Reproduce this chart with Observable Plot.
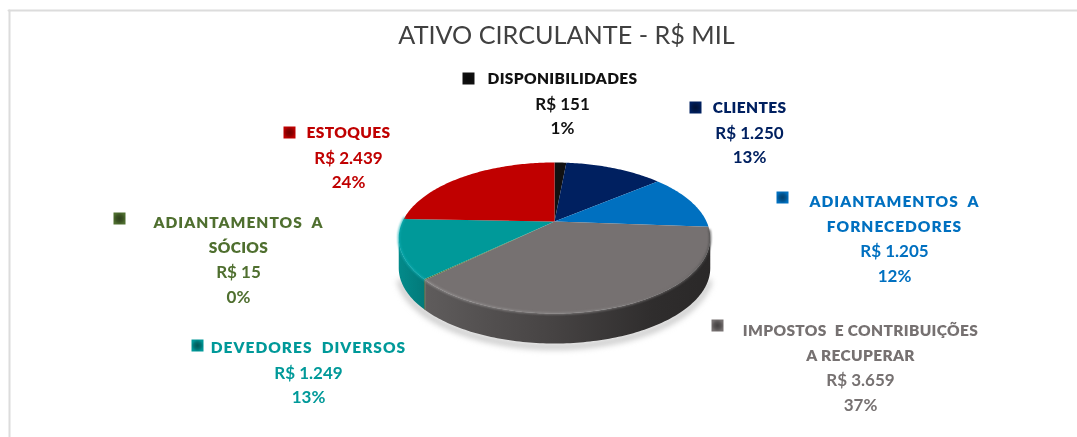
<!DOCTYPE html>
<html><head><meta charset="utf-8">
<script src="https://cdn.jsdelivr.net/npm/d3@7"></script>
<script src="https://cdn.jsdelivr.net/npm/@observablehq/plot@0.6"></script>
<style>
html,body{margin:0;padding:0;background:#fff}
svg{display:block;font-family:Lato,sans-serif}
.soft{filter:blur(.45px)}
.rim{filter:blur(.8px)}
.shadow{filter:blur(3px)}
.txt{filter:blur(.3px)}
.wide{filter:blur(.3px)}
.wide text{letter-spacing:1px}
.tight{filter:blur(.3px)}
.tight text{letter-spacing:.35px}
</style></head><body><div id="chart"></div>
<script>
// ---- data ----
const chartTitle = "ATIVO CIRCULANTE - R$ MIL";
const categories = ["DISPONIBILIDADES","CLIENTES","ADIANTAMENTOS A FORNECEDORES","IMPOSTOS E CONTRIBUIÇÕES A RECUPERAR","ADIANTAMENTOS A SÓCIOS","DEVEDORES DIVERSOS","ESTOQUES"];
const values = [151,1250,1205,3659,15,1249,2439];
const percents = ["1%","13%","12%","37%","0%","13%","24%"];
const nameLines = [["DISPONIBILIDADES"],["CLIENTES"],["ADIANTAMENTOS  A","FORNECEDORES"],["IMPOSTOS  E CONTRIBUIÇÕES","A RECUPERAR"],["ADIANTAMENTOS  A","SÓCIOS"],["DEVEDORES  DIVERSOS"],["ESTOQUES"]];
const colors = ["#111111","#002060","#0070c0","#767171","#4f6f2f","#009999","#c00000"];
// ---- layout (pixel-unit scales) ----
const labelCx = [562,749,894,860,238,308,348];
const labelTop = [79,108,202,331,223,348,133];
const rowGap = 24.6;
const markerX = [468,695,782,717,119,197,289];
const markerY = [78,107,197,325,218,345,132];
const pieCx = 554, pieCy = 221, pieA = 152, pieB = 71.9, persp = 0.2185, depth = 30;

const fmt = v => "R$ " + d3.format(",")(v).replace(/,/g,".");
const total = d3.sum(values);
const toXY = (deg, dy=0) => {
  const t = deg*Math.PI/180, c = Math.cos(t), s = Math.sin(t), w = 1 + persp*c;
  return {x: pieCx + pieA*s/w, y: pieCy - pieB*c/w + dy};
};
const arcPts = (a0,a1,dy=0) => {
  const n = Math.max(2,Math.ceil(Math.abs(a1-a0)));
  return d3.range(n+1).map(i => toXY(a0+(a1-a0)*i/n,dy));
};
let acc = 0;
const spans = values.map((v,i)=>{const a0=acc/total*360; acc+=v; return {name:categories[i],a0,a1:acc/total*360};});
const tilt = Math.acos(-persp)*180/Math.PI;          // tangent of the rim on the right
const visL = 360 - tilt, visR = tilt;
const faces = spans.flatMap(s => [{x:pieCx,y:pieCy},...arcPts(s.a0,s.a1)].map(p=>({...p,name:s.name})));
const wall = s => { const a0=Math.max(s.a0,visR), a1=Math.min(s.a1,visL);
  return a1<=a0 ? [] : [...arcPts(a0,a1),...arcPts(a1,a0,depth)]; };
const greyWall = wall(spans[3]), tealWall = wall(spans[5]), sliverWall = wall(spans[4]);
const greyRim = arcPts(Math.max(spans[3].a0,visR)-6,spans[3].a1);
const tealRim = arcPts(spans[5].a0,spans[5].a1+1);
const shadowArc = arcPts(visR+8,visL-8,depth+3);

const rows = categories.flatMap((name,i)=>{
  const lines=[...nameLines[i],fmt(values[i]),percents[i]];
  return lines.map((t,j)=>({name,t,x:labelCx[i],y:labelTop[i]+j*rowGap,head:j<nameLines[i].length}));
});
const isWide = d => /ADIANTAMENTOS|DEVEDORES|FORNECEDORES/.test(d.t);
const markers = categories.map((name,i)=>({name,x:markerX[i],y:markerY[i],i}));
const frameTop=[{x:8,y:10},{x:1077,y:10}], frameLeft=[{x:9,y:10},{x:9,y:437}];

function defsMark(){
  const g=d3.create("svg:g"), defs=g.append("defs");
  const grad=(id,stops,tag="linearGradient")=>{const n=defs.append(tag).attr("id",id);
    stops.forEach(([o,c])=>n.append("stop").attr("offset",o).attr("stop-color",c));};
  grad("wallGrey",[["0","#5f5c5c"],["0.45","#464343"],["0.8","#2f2d2d"],["1","#2a2828"]]);
  grad("wallTeal",[["0","#038a8a"],["1","#027a7a"]]);
  grad("rimGrey",[["0","#9a9797"],["0.6","#8a8787"],["0.92","#6a6767"],["1","#444"]]);
  colors.forEach((c,i)=>{const k=d3.color(c);
    grad("mk"+i,[["0",k.darker(1.6).formatHex()],["0.6",k.darker(0.8).formatHex()],["1",k.formatHex()]],"radialGradient");});
  return g.node();
}

const plot = Plot.plot({
  width:1077,height:437,margin:0,
  x:{domain:[0,1077],range:[0,1077],axis:null},
  y:{domain:[0,437],range:[0,437],axis:null},
  color:{domain:categories,range:colors},
  marks:[
    defsMark,
    Plot.line(frameTop,{x:"x",y:"y",stroke:"#dcdcdc",strokeWidth:2}),
    Plot.line(frameLeft,{x:"x",y:"y",stroke:"#dcdcdc",strokeWidth:2}),
    Plot.line(shadowArc,{x:"x",y:"y",stroke:"#bbbbbb",strokeWidth:5,className:"shadow"}),
    Plot.line(greyWall,{x:"x",y:"y",fill:"url(#wallGrey)",stroke:"none",className:"soft"}),
    Plot.line(sliverWall,{x:"x",y:"y",fill:"#3a5524",stroke:"none",className:"soft"}),
    Plot.line(tealWall,{x:"x",y:"y",fill:"url(#wallTeal)",stroke:"none",className:"soft"}),
    Plot.line(faces,{x:"x",y:"y",z:"name",fill:"name",stroke:"none",className:"soft"}),
    Plot.line(greyRim,{x:"x",y:"y",stroke:"url(#rimGrey)",strokeWidth:1.6,className:"rim"}),
    Plot.line(tealRim,{x:"x",y:"y",stroke:"#12b0b6",strokeWidth:1.6,className:"rim"}),
    Plot.dot(markers,{x:"x",y:"y",symbol:"square",r:6.8,fill:d=>`url(#mk${d.i})`,stroke:"none",className:"soft"}),
    Plot.text(rows.filter(d=>d.head&&isWide(d)),{x:"x",y:"y",text:"t",fill:"name",fontSize:15.5,fontWeight:800,className:"wide"}),
    Plot.text(rows.filter(d=>d.head&&!isWide(d)),{x:"x",y:"y",text:"t",fill:"name",fontSize:15.5,fontWeight:800,className:"tight"}),
    Plot.text(rows.filter(d=>!d.head),{x:"x",y:"y",text:"t",fill:"name",fontSize:17,fontWeight:700,className:"txt"}),
    Plot.text([chartTitle],{x:[566],y:[35],text:d=>d,fill:"#404040",fontSize:25.2,fontWeight:400,className:"txt"})
  ]
});
document.getElementById("chart").appendChild(plot);
</script></body></html>
